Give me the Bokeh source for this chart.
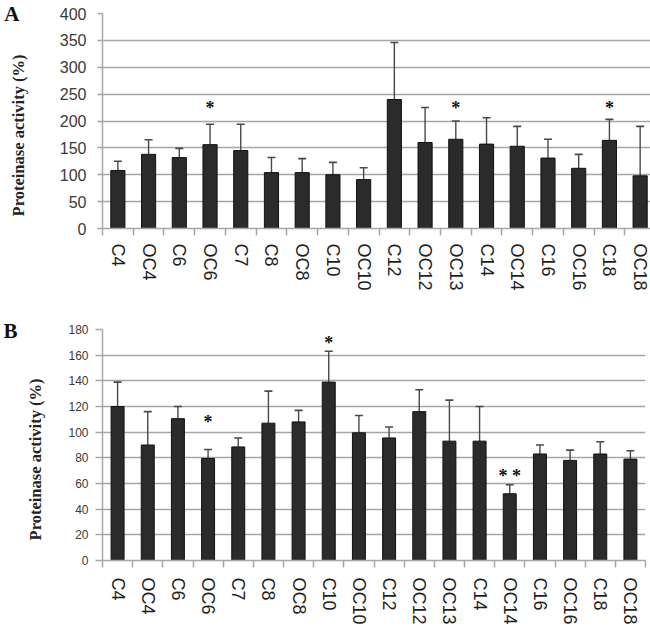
from bokeh.plotting import figure
from bokeh.layouts import column
from bokeh.models import (ColumnDataSource, Range1d, LinearAxis,
                          FixedTicker, Whisker, TeeHead)
from bokeh.core.properties import value
from bokeh.embed import file_html
from bokeh.resources import INLINE

# ---------------- data ----------------
cats_a = ["C4", "OC4", "C6", "OC6", "C7", "C8", "OC8", "C10", "OC10", "C12",
          "OC12", "OC13", "C14", "OC14", "C16", "OC16", "C18", "OC18"]
vals_a = [108, 138, 132, 156, 145, 104, 104, 100, 91, 240,
          160, 166, 157, 153, 131, 112, 164, 98]
errs_a = [17, 27, 17, 38, 49, 28, 26, 23, 22, 106,
          65, 34, 49, 37, 35, 26, 39, 92]
sig_a_cats = ["OC6", "OC13", "C18"]
sig_a_text = ["*", "*", "*"]
sig_a_y = [229, 229, 229]
yticks_a = [0, 50, 100, 150, 200, 250, 300, 350, 400]

cats_b = ["C4", "OC4", "C6", "OC6", "C7", "C8", "OC8", "C10", "OC10", "C12",
          "OC12", "OC13", "C14", "OC14", "C16", "OC16", "C18", "OC18"]
vals_b = [120, 90, 110.5, 79.5, 88.5, 107, 108, 139, 99.5, 95.5,
          116, 93, 93, 52, 83, 78, 83, 79]
errs_b = [19, 26, 9.5, 7, 7, 25, 9, 24, 13.5, 8.5,
          17, 32, 27, 7, 7, 8, 9.5, 6.5]
sig_b_cats = ["OC6", "C10", "OC14"]
sig_b_text = ["*", "*", "* *"]
sig_b_y = [110, 172, 68]
yticks_b = [0, 20, 40, 60, 80, 100, 120, 140, 160, 180]

y_label = "Proteinase activity (%)"

GRID = "#a6a6a6"
BAR = "#2b2b2b"
WHISK = "#484848"
LABEL_PAD = "\u00a0" * 7   # pushes the rotated label's visible text a little lower


def make_panel(letter, letter_at, letter_standoff, cats, vals, errs,
               sig_cats, sig_text, sig_y, yticks,
               frame_w, frame_h, b_left, b_top, b_bottom, b_right,
               bar_w, ytick_size, ytick_out, ytick_standoff, label_standoff,
               xlab_size, xlab_standoff):
    n = len(cats)
    xs = [i + 0.5 for i in range(n)]          # category slots on a linear scale
    seps = list(range(n + 1))                 # boundaries between categories
    p = figure(x_range=Range1d(0, n), y_range=Range1d(yticks[0], yticks[-1]),
               frame_width=frame_w, frame_height=frame_h,
               min_border_left=b_left, min_border_top=b_top,
               min_border_bottom=b_bottom, min_border_right=b_right,
               x_axis_location=None, output_backend="svg", toolbar_location=None,
               background_fill_color="white", border_fill_color="white")
    p.outline_line_color = None

    lo = [v - e for v, e in zip(vals, errs)]
    hi = [v + e for v, e in zip(vals, errs)]
    src = ColumnDataSource(dict(x=xs, cat=cats, val=vals, lo=lo, hi=hi))
    p.vbar(x="x", top="val", width=bar_w, source=src,
           fill_color=BAR, line_color="#111111", line_width=1)
    w = Whisker(base="x", upper="hi", lower="lo", source=src, dimension="height",
                line_color=WHISK, line_width=1.4,
                upper_head=TeeHead(size=8, line_color=WHISK, line_width=1.6),
                lower_head=TeeHead(size=8, line_color=WHISK, line_width=1.6))
    p.add_layout(w)

    sx = [xs[cats.index(c)] for c in sig_cats]
    ssrc = ColumnDataSource(dict(x=sx, y=sig_y, t=sig_text))
    p.text(x="x", y="y", text="t", source=ssrc, text_align="center",
           text_baseline="middle", y_offset=3, text_font=value("Liberation Serif"),
           text_font_style="bold", text_font_size="18px", text_color="#111111")

    # y axis
    ax = p.yaxis[0]
    ax.ticker = FixedTicker(ticks=yticks)
    ax.axis_line_color = GRID
    ax.axis_line_width = 1.5
    ax.major_tick_line_color = GRID
    ax.major_tick_line_width = 1.5
    ax.major_tick_out = ytick_out
    ax.major_tick_in = 0
    ax.minor_tick_line_color = None
    ax.major_label_standoff = ytick_standoff
    ax.major_label_text_font = "Liberation Sans"
    ax.major_label_text_font_size = ytick_size
    ax.major_label_text_color = "#3a3a3a"
    ax.axis_label = y_label + LABEL_PAD
    ax.axis_label_text_font = "Liberation Serif"
    ax.axis_label_text_font_style = "bold"
    ax.axis_label_text_font_size = "16.5px"
    ax.axis_label_text_color = "#222222"
    ax.axis_label_standoff = label_standoff

    # panel letter, drawn as the single label of an outer left axis
    lax = LinearAxis(ticker=FixedTicker(ticks=[letter_at]),
                     major_label_overrides={letter_at: letter},
                     axis_line_color=None, major_tick_line_color=None,
                     minor_tick_line_color=None, major_tick_out=0, major_tick_in=0,
                     major_label_standoff=letter_standoff,
                     major_label_text_font="Liberation Serif",
                     major_label_text_font_style="bold",
                     major_label_text_font_size="21px",
                     major_label_text_color="#111111")
    p.add_layout(lax, "left")

    p.ygrid.grid_line_color = GRID
    p.ygrid.grid_line_width = 1.5
    p.ygrid.ticker = FixedTicker(ticks=yticks)
    p.xgrid.grid_line_color = None

    # x axis: labels at category centres, separator ticks (minor) between categories
    cax = LinearAxis(ticker=FixedTicker(ticks=xs, minor_ticks=seps),
                     major_label_overrides={x: c for x, c in zip(xs, cats)},
                     axis_line_color=GRID, axis_line_width=1.5,
                     major_tick_line_color=None, major_tick_out=7, major_tick_in=0,
                     minor_tick_line_color=GRID, minor_tick_line_width=1.5,
                     minor_tick_out=7, minor_tick_in=0,
                     major_label_orientation="vertical", major_label_standoff=xlab_standoff,
                     major_label_text_font="Liberation Sans",
                     major_label_text_font_size=xlab_size,
                     major_label_text_color="#1e1e1e")
    p.add_layout(cax, "below")
    return p


pA = make_panel("A", 400, -14, cats_a, vals_a, errs_a, sig_a_cats, sig_a_text, sig_a_y,
                yticks_a, 553, 215, 93, 13, 77, 4, 0.46, "16px", 5, 11, 29, "18px", 8)
pB = make_panel("B", 179, 6, cats_b, vals_b, errs_b, sig_b_cats, sig_b_text, sig_b_y,
                yticks_b, 543, 231, 97, 24, 71, 10, 0.43, "12px", 7, 7, 20, "18px", 10)

layout = column(pA, pB, spacing=0)
open("out.html", "w").write(file_html(layout, INLINE))
